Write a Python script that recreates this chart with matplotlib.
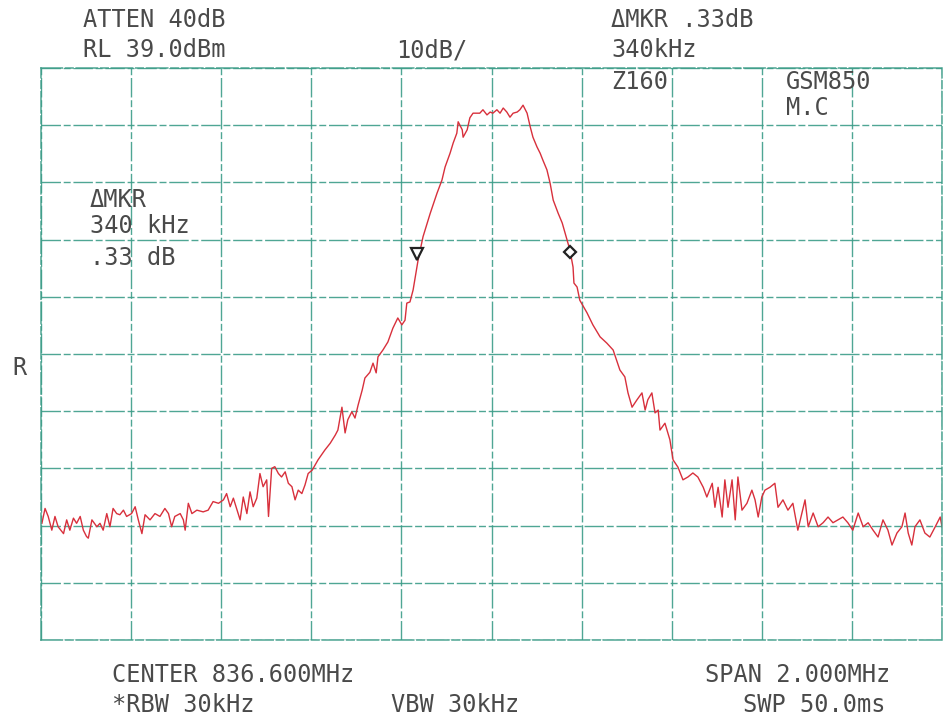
import matplotlib
matplotlib.use("Agg")
import matplotlib.pyplot as plt

# Spectrum analyzer settings
center_mhz = 836.6
span_khz = 2000
ref_level_dbm = 39.0
db_per_div = 10

# Trace: offset from center (kHz) and level (dBm)
freq_offset_khz = [
    -998, -991, -984, -976, -969, -962, -950, -943, -936, -928,
    -921, -913, -906, -899, -895, -887, -876, -869, -862, -854,
    -847, -840, -832, -825, -817, -810, -799, -791, -784, -776,
    -769, -758, -747, -736, -725, -717, -710, -703, -691, -684,
    -680, -673, -665, -654, -640, -629, -618, -606, -595, -588,
    -580, -573, -566, -558, -551, -543, -536, -529, -521, -514,
    -507, -499, -495, -488, -481, -473, -466, -458, -451, -443,
    -436, -429, -421, -414, -407, -398, -385, -370, -358, -347,
    -341, -332, -325, -319, -310, -303, -296, -287, -281, -270,
    -263, -256, -252, -241, -230, -219, -208, -199, -192, -188,
    -181, -174, -163, -152, -136, -121, -110, -103, -92, -85,
    -77, -74, -65, -63, -54, -48, -41, -26, -19, -10,
    -3, 3, 12, 19, 26, 34, 41, 48, 57, 63,
    70, 79, 86, 92, 101, 108, 114, 123, 130, 137,
    148, 157, 168, 174, 181, 183, 190, 196, 212, 225,
    241, 256, 270, 285, 296, 303, 312, 323, 334, 341,
    347, 356, 363, 370, 374, 385, 396, 403, 414, 425,
    436, 447, 458, 470, 478, 490, 496, 503, 512, 518,
    525, 534, 541, 547, 556, 567, 578, 585, 592, 600,
    607, 618, 629, 636, 647, 658, 669, 680, 696, 703,
    714, 725, 736, 747, 758, 769, 780, 791, 802, 814,
    825, 836, 847, 858, 869, 880, 889, 900, 911, 918,
    925, 933, 940, 951, 962, 973, 985, 996, 1000,
]
level_dbm = [
    -40.6, -38.0, -39.4, -41.8, -39.4, -41.2, -42.4, -40.0, -41.8, -39.7,
    -40.6, -39.4, -41.8, -42.9, -43.2, -40.0, -41.2, -40.6, -41.8, -38.9,
    -41.2, -38.0, -38.9, -39.1, -38.3, -39.4, -38.9, -37.7, -40.0, -42.4,
    -39.1, -40.0, -38.9, -39.4, -38.0, -38.9, -41.2, -39.4, -38.9, -40.0,
    -41.8, -37.1, -38.9, -38.3, -38.6, -38.3, -36.8, -37.1, -36.5, -35.4,
    -37.7, -36.2, -38.0, -40.0, -36.0, -38.9, -35.1, -37.7, -36.2, -31.9,
    -34.2, -33.0, -39.4, -31.0, -30.7, -31.9, -32.5, -31.6, -33.6, -34.2,
    -36.5, -34.8, -35.4, -33.9, -31.9, -31.3, -29.5, -27.8, -26.6, -25.2,
    -24.3, -20.3, -24.8, -22.5, -21.1, -22.2, -19.9, -17.3, -15.2, -14.2,
    -12.6, -14.3, -11.5, -10.3, -8.9, -6.5, -4.7, -5.9, -5.1, -2.1,
    -1.9, 0.2, 5.4, 9.5, 13.6, 17.1, 19.4, 21.7, 24.1, 25.9,
    27.6, 29.6, 28.2, 26.9, 28.2, 30.3, 31.1, 31.1, 31.7, 30.8,
    31.3, 31.1, 31.7, 31.1, 32.0, 31.3, 30.4, 31.1, 31.3, 31.7,
    32.5, 31.1, 28.7, 26.9, 25.2, 24.1, 22.9, 21.2, 18.9, 15.9,
    13.6, 11.9, 8.9, 7.2, 4.2, 1.4, 0.7, -1.6, -3.8, -5.9,
    -8.0, -9.1, -10.3, -13.8, -15.0, -17.8, -20.3, -19.0, -17.8, -20.8,
    -19.0, -17.8, -21.3, -20.8, -24.3, -23.1, -26.0, -29.5, -30.8, -33.0,
    -32.5, -31.8, -32.5, -34.3, -36.0, -33.6, -37.8, -34.3, -39.5, -33.0,
    -37.8, -33.0, -40.0, -32.5, -38.3, -37.1, -34.8, -36.5, -39.5, -36.0,
    -34.8, -34.3, -33.6, -37.8, -36.5, -38.3, -37.1, -41.8, -36.5, -41.2,
    -38.8, -41.2, -40.5, -39.5, -40.5, -40.0, -39.5, -40.5, -41.8, -38.8,
    -41.2, -40.5, -41.8, -43.0, -40.0, -41.8, -44.4, -42.3, -41.2, -38.8,
    -42.3, -44.4, -41.2, -40.0, -42.3, -43.0, -41.2, -39.5, -41.2,
]

# Markers (reference + delta marker, 340 kHz apart)
marker_offset_khz = [-165, 175]
marker_level_dbm = [6.5, 6.8]

W, H = 946, 719
TEXT_COLOR = "#4a4a4a"
GRID_COLOR = "#3c9c88"
TRACE_COLOR = "#d8303c"


def px(x, y):
    # pixel position -> figure fraction
    return x / W, 1 - y / H


def main():
    assert len(freq_offset_khz) == len(level_dbm)

    fig = plt.figure(figsize=(W / 100, H / 100), dpi=100)
    fig.patch.set_facecolor("white")
    ax = fig.add_axes([41 / W, (H - 640) / H, 901 / W, 572 / H])

    bottom = ref_level_dbm - 10 * db_per_div
    ax.set_xlim(-span_khz / 2, span_khz / 2)
    ax.set_ylim(bottom, ref_level_dbm)
    ax.set_xticks([-span_khz / 2 + i * span_khz / 10 for i in range(11)])
    ax.set_yticks([bottom + i * db_per_div for i in range(11)])
    ax.tick_params(length=0, labelbottom=False, labelleft=False)
    ax.grid(True, color=GRID_COLOR, linestyle=(0, (14, 2, 5, 2)), linewidth=1.0, alpha=0.9)
    for s in ax.spines.values():
        s.set_color(GRID_COLOR)
        s.set_linestyle((0, (14, 2, 5, 2)))
        s.set_linewidth(1.1)
        s.set_alpha(0.9)

    ax.plot(freq_offset_khz, level_dbm, color=TRACE_COLOR, linewidth=1.0)

    ax.plot(marker_offset_khz[0], marker_level_dbm[0], marker="v", ms=8, mfc="white",
            mec="#222222", mew=1.6, zorder=5)
    ax.plot(marker_offset_khz[1], marker_level_dbm[1], marker="D", ms=6, mfc="white",
            mec="#222222", mew=1.6, zorder=5)

    font = dict(family="DejaVu Sans Mono", size=17, color=TEXT_COLOR, va="center")

    fig.text(*px(83, 20), "ATTEN 40dB", ha="left", **font)
    fig.text(*px(83, 50), "RL 39.0dBm", ha="left", **font)
    fig.text(*px(432, 50), "10dB/", ha="center", **font)
    fig.text(*px(611, 20), "ΔMKR .33dB", ha="left", **font)
    fig.text(*px(611, 50), "340kHz", ha="left", **font)
    fig.text(*px(611, 82), "Z160", ha="left", **font)
    fig.text(*px(786, 82), "GSM850", ha="left", **font)
    fig.text(*px(786, 108), "M.C", ha="left", **font)

    fig.text(*px(90, 200), "ΔMKR", ha="left", **font)
    fig.text(*px(90, 226), "340 kHz", ha="left", **font)
    fig.text(*px(90, 258), ".33 dB", ha="left", **font)
    fig.text(*px(19, 368), "R", ha="center", **font)

    fig.text(*px(112, 675), "CENTER 836.600MHz", ha="left", **font)
    fig.text(*px(112, 705), "*RBW 30kHz", ha="left", **font)
    fig.text(*px(455, 705), "VBW 30kHz", ha="center", **font)
    fig.text(*px(890, 675), "SPAN 2.000MHz", ha="right", **font)
    fig.text(*px(885, 705), "SWP 50.0ms", ha="right", **font)

    fig.savefig("out.png", dpi=100, facecolor="white")


if __name__ == "__main__":
    main()
